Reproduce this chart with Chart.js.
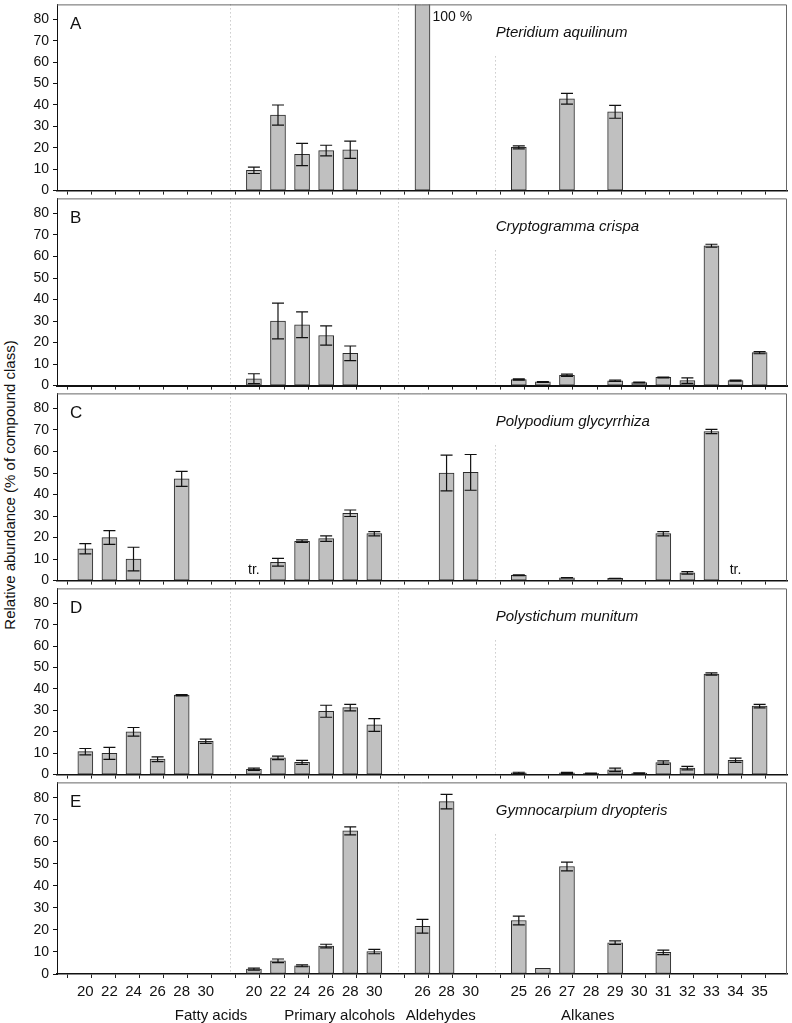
<!DOCTYPE html>
<html>
<head>
<meta charset="utf-8">
<script src="https://cdn.jsdelivr.net/npm/chart.js@4.4.1/dist/chart.umd.min.js"></script>
<style>
  body { margin: 0; background: #fff; width: 792px; height: 1023px; position: relative; overflow: hidden;
         font-family: "Liberation Sans", Arial, sans-serif; color: #111; }
  canvas { position: absolute; left: 0; }
  #ytitle { position: absolute; left: 9px; top: 485px; transform: translate(-50%, -50%) rotate(-90deg);
            white-space: nowrap; font-size: 15px; }
</style>
</head>
<body>
<div id="ytitle">Relative abundance (% of compound class)</div>
<script>
var n = null;

// one slot per chain length, empty slots separate the compound classes
var slotLabels = ['20', '22', '24', '26', '28', '30', '',
                  '20', '22', '24', '26', '28', '30', '',
                  '26', '28', '30', '',
                  '25', '26', '27', '28', '29', '30', '31', '32', '33', '34', '35'];
var groupNames = ['Fatty acids', 'Primary alcohols', 'Aldehydes', 'Alkanes'];
var groupSlots = [[0, 5], [7, 12], [14, 16], [18, 28]];
var separatorSlots = [6, 13, 17];
var yLabelTicks = [0, 10, 20, 30, 40, 50, 60, 70, 80];
var panelLetters = ['A', 'B', 'C', 'D', 'E'];
var speciesNames = ['Pteridium aquilinum', 'Cryptogramma crispa', 'Polypodium glycyrrhiza',
                    'Polystichum munitum', 'Gymnocarpium dryopteris'];

var valuesA = [n, n, n, n, n, n, n, 9.5, 35.3, 16.9, 18.7, 19.1, n, n, 100, n, n, n,
               20.2, n, 42.9, n, 36.8, n, n, n, n, n, n];
var errorsA = [n, n, n, n, n, n, n, 1.5, 4.7, 5.2, 2.5, 4.0, n, n, n, n, n, n,
               0.7, n, 2.5, n, 3.0, n, n, n, n, n, n];

var valuesB = [n, n, n, n, n, n, n, 3.2, 30.0, 28.3, 23.3, 15.0, n, n, n, n, n, n,
               2.8, 1.7, 4.8, n, 2.2, 1.4, 3.8, 2.3, 65.0, 2.3, 15.3];
var errorsB = [n, n, n, n, n, n, n, 2.3, 8.3, 6.0, 4.5, 3.4, n, n, n, n, n, n,
               0.3, 0.2, 0.5, n, 0.3, 0.2, 0.2, 1.3, 0.7, 0.2, 0.5];

var valuesC = [14.8, 20.0, 10.0, n, 47.3, n, n, n, 8.5, 18.3, 19.5, 31.3, 21.8, n, n, 50.0, 50.3, n,
               2.5, n, 1.3, n, 1.0, n, 21.8, 3.6, 69.3, n, n];
var errorsC = [2.4, 3.2, 5.5, n, 3.5, n, n, n, 1.8, 0.6, 1.3, 1.5, 1.0, n, n, 8.3, 8.3, n,
               0.2, n, 0.1, n, 0.1, n, 1.0, 0.6, 1.0, n, n];

var valuesD = [10.7, 9.9, 20.0, 7.2, 37.1, 15.6, n, 2.5, 7.8, 5.7, 29.6, 31.3, 23.2, n, n, n, n, n,
               0.8, n, 0.8, 0.6, 2.2, 0.7, 5.6, 3.0, 47.0, 6.7, 32.0];
var errorsD = [1.5, 2.8, 2.0, 1.1, 0.3, 1.0, n, 0.5, 0.8, 0.9, 2.8, 1.5, 3.0, n, n, n, n, n,
               0.3, n, 0.2, 0.1, 0.8, 0.1, 0.8, 0.8, 0.5, 1.0, 0.8];

var valuesE = [n, n, n, n, n, n, n, 2.2, 6.0, 3.7, 12.7, 65.0, 10.2, n, 21.7, 78.3, n, n,
               24.3, 2.6, 48.8, n, 14.2, n, 9.8, n, n, n, n];
var errorsE = [n, n, n, n, n, n, n, 0.5, 0.8, 0.4, 0.8, 1.8, 1.0, n, 3.1, 3.3, n, n,
               2.0, n, 2.0, n, 0.8, n, 1.0, n, n, n, n];

var traceSlots = [[], [], [7, 27], [], []];   // "tr." markers
var offscaleSlots = [[14], [], [], [], []];    // bars running past the top ("100 %")

var panelValues = [valuesA, valuesB, valuesC, valuesD, valuesE];
var panelErrors = [errorsA, errorsB, errorsC, errorsD, errorsE];

var panelTops = [2, 196, 391, 586, 780];
var panelHeights = [194, 195, 195, 194, 194];
var FONT = '"Liberation Sans", Arial, sans-serif';
var X_MIN = -0.92, X_MAX = slotLabels.length - 0.12;

var xTickValues = [];
for (var t = -0.5; t <= slotLabels.length - 0.5; t += 0.5) xTickValues.push(t);
var yTickValues = [];
for (var v = 0; v <= 86; v += 2) yTickValues.push(v);

function decorPlugin(i) {
  var values = panelValues[i], errors = panelErrors[i];
  return {
    id: 'decor' + i,
    beforeDatasetsDraw: function (chart) {
      var ctx = chart.ctx, a = chart.chartArea, xs = chart.scales.x;
      ctx.save();
      ctx.strokeStyle = '#b0b0b0';
      ctx.lineWidth = 1;
      ctx.setLineDash([1, 3]);
      separatorSlots.forEach(function (s, k) {
        var x = Math.round(xs.getPixelForValue(s)) + 0.5;
        var y0 = k === separatorSlots.length - 1 ? a.top + 52 : a.top;
        ctx.beginPath();
        ctx.moveTo(x, y0);
        ctx.lineTo(x, a.bottom);
        ctx.stroke();
      });
      ctx.restore();
    },
    afterDatasetsDraw: function (chart) {
      var ctx = chart.ctx, a = chart.chartArea, xs = chart.scales.x, ys = chart.scales.y;
      ctx.save();
      ctx.beginPath();
      ctx.rect(a.left, a.top, a.right - a.left, a.bottom - a.top);
      ctx.clip();
      ctx.strokeStyle = '#111';
      ctx.lineWidth = 1.2;
      values.forEach(function (val, k) {
        var e = errors[k];
        if (val === null || e === null) return;
        var x = xs.getPixelForValue(k);
        var y1 = ys.getPixelForValue(val - e), y2 = ys.getPixelForValue(val + e);
        ctx.beginPath();
        ctx.moveTo(x, y1); ctx.lineTo(x, y2);
        ctx.moveTo(x - 6, y1); ctx.lineTo(x + 6, y1);
        ctx.moveTo(x - 6, y2); ctx.lineTo(x + 6, y2);
        ctx.stroke();
      });
      ctx.restore();

      // frame (top and right)
      ctx.save();
      ctx.strokeStyle = '#666';
      ctx.lineWidth = 1;
      ctx.beginPath();
      ctx.moveTo(a.left, a.top + 0.5);
      ctx.lineTo(a.right - 0.5, a.top + 0.5);
      ctx.lineTo(a.right - 0.5, a.bottom);
      ctx.stroke();

      ctx.fillStyle = '#111';
      ctx.textBaseline = 'middle';
      ctx.textAlign = 'left';
      ctx.font = '17px ' + FONT;
      ctx.fillText(panelLetters[i], a.left + 13, a.top + 20);
      ctx.font = 'italic 15px ' + FONT;
      ctx.fillText(speciesNames[i], xs.getPixelForValue(separatorSlots[2]) + 1, a.top + 28);
      ctx.font = '14px ' + FONT;
      offscaleSlots[i].forEach(function (s) {
        ctx.fillText('100 %', xs.getPixelForValue(s) + 10, a.top + 13);
      });
      ctx.textAlign = 'center';
      traceSlots[i].forEach(function (s) {
        ctx.fillText('tr.', xs.getPixelForValue(s), a.bottom - 10);
      });
      ctx.restore();
    }
  };
}

function makePanel(i) {
  var last = i === panelLetters.length - 1;
  var padTop = 10;
  var below = last ? 49 : 7;
  var canvas = document.createElement('canvas');
  canvas.width = 792;
  canvas.height = padTop + panelHeights[i] + below;
  canvas.style.top = (panelTops[i] - padTop) + 'px';
  document.body.appendChild(canvas);

  var points = [];
  panelValues[i].forEach(function (val, k) {
    if (val !== null) points.push({ x: k, y: val });
  });

  var scales = {
    x: {
      type: 'linear',
      min: X_MIN,
      max: X_MAX,
      weight: 0,
      afterBuildTicks: function (s) {
        s.ticks = xTickValues.map(function (val) { return { value: val }; });
      },
      afterFit: function (s) { s.height = last ? 28 : 7; },
      ticks: {
        display: last,
        autoSkip: false,
        maxRotation: 0,
        padding: 5,
        color: '#111',
        font: { family: FONT, size: 15 },
        callback: function (val) {
          return val % 1 === 0 ? slotLabels[val] : '';
        }
      },
      grid: {
        drawOnChartArea: false,
        tickLength: 4,
        tickColor: function (c) {
          return c.tick && c.tick.value % 1 !== 0 ? '#222' : 'rgba(0,0,0,0)';
        }
      },
      border: { display: true, color: '#111', width: i === 1 ? 2 : 1.5 }
    },
    y: {
      type: 'linear',
      min: 0,
      max: 87,
      afterBuildTicks: function (s) {
        s.ticks = yTickValues.map(function (val) { return { value: val }; });
      },
      afterFit: function (s) { s.width = 57; },
      ticks: {
        padding: 4,
        color: '#111',
        font: { family: FONT, size: 14 },
        callback: function (val) {
          return yLabelTicks.indexOf(val) >= 0 ? String(val) : '';
        }
      },
      grid: {
        drawOnChartArea: false,
        tickLength: 4,
        tickColor: function (c) {
          return c.tick && yLabelTicks.indexOf(c.tick.value) >= 0 ? '#111' : '#777';
        }
      },
      border: { display: true, color: '#111', width: 1 }
    }
  };

  if (last) {
    scales.xg = {
      type: 'linear',
      position: 'bottom',
      min: X_MIN,
      max: X_MAX,
      weight: 1,
      afterBuildTicks: function (s) {
        s.ticks = groupSlots.map(function (g) { return { value: (g[0] + g[1]) / 2 }; });
      },
      afterFit: function (s) { s.height = 21; },
      ticks: {
        autoSkip: false,
        maxRotation: 0,
        padding: 5,
        color: '#111',
        font: { family: FONT, size: 15 },
        callback: function (val, idx) { return groupNames[idx]; }
      },
      grid: { display: false, drawTicks: false },
      border: { display: false }
    };
  }

  new Chart(canvas.getContext('2d'), {
    type: 'bar',
    data: {
      datasets: [{
        data: points,
        backgroundColor: '#c0c0c0',
        borderColor: '#2a2a2a',
        borderWidth: 1,
        borderSkipped: false,
        barThickness: 15
      }]
    },
    options: {
      responsive: false,
      animation: false,
      events: [],
      layout: { padding: { top: padTop, right: 5, left: 0, bottom: 0 } },
      plugins: { legend: { display: false }, tooltip: { enabled: false } },
      scales: scales
    },
    plugins: [decorPlugin(i)]
  });
}

for (var p = 0; p < panelLetters.length; p++) makePanel(p);
</script>
</body>
</html>
